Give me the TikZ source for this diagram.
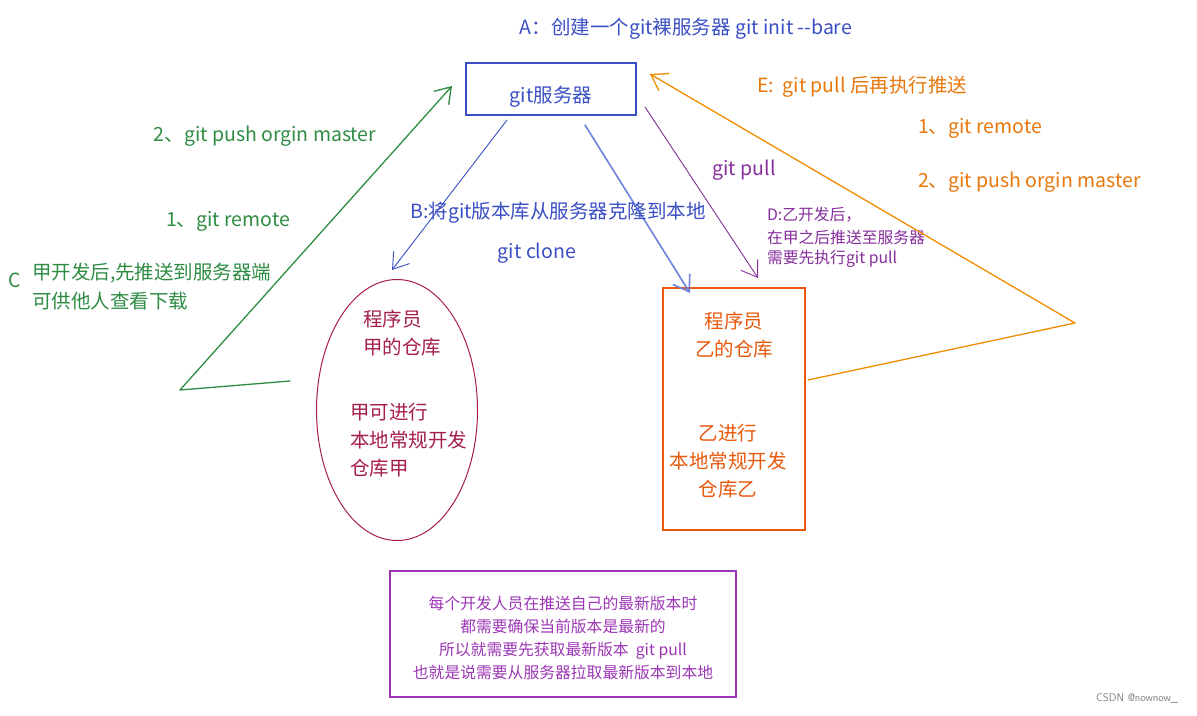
\documentclass[tikz,border=0pt]{standalone}
\usepackage{fontspec}
\usepackage{tikz}
\usetikzlibrary{arrows.meta,shapes.geometric}
\newfontfamily\cjk{Noto Sans CJK SC}

\begin{document}
\begin{tikzpicture}[x=1pt,y=-1pt,
  txt/.style={inner sep=0pt, outer sep=0pt, font=\cjk\fontsize{19.5}{28}\selectfont},
  small/.style={inner sep=0pt, outer sep=0pt, font=\cjk\fontsize{15.8}{22.7}\selectfont},
  arr/.style={-{Straight Barb[length=15pt,width=20pt]}, line width=0.9pt, line cap=round, line join=round}]
\definecolor{blueColor}{RGB}{59,79,196}
\definecolor{lightBlue}{RGB}{110,130,220}
\definecolor{greenColor}{RGB}{47,140,68}
\definecolor{orangeColor}{RGB}{240,140,0}
\definecolor{textOrange}{RGB}{232,119,12}
\definecolor{purpleColor}{RGB}{134,46,156}
\definecolor{boxPurple}{RGB}{156,54,181}
\definecolor{redColor}{RGB}{166,30,77}
\definecolor{yiColor}{RGB}{232,89,12}
\path[use as bounding box,fill=white] (0,0) rectangle (1197,715);

\node[txt,text=blueColor] (titleA) at (686,29) {\textit{A}：创建一个git裸服务器 git init --bare};

\node[draw=blueColor,line width=1.2pt,minimum width=170pt,minimum height=52pt,inner sep=0pt] (server) at (551,89) {};
\node[txt,text=blueColor] (serverText) at (551,97) {git服务器};

\node[ellipse,draw=redColor,line width=1pt,minimum width=161pt,minimum height=261pt,inner sep=0pt] (jia) at (397,410) {};
\node[txt,text=redColor,anchor=west] (jiaTop) at (363,319) {程序员};
\node[txt,text=redColor,anchor=west] (jiaTop2) at (363,347) {甲的仓库};
\node[txt,text=redColor,anchor=west] (jiaBot) at (350,412) {甲可进行};
\node[txt,text=redColor,anchor=west] (jiaBot2) at (350,440) {本地常规开发};
\node[txt,text=redColor,anchor=west] (jiaBot3) at (350,468) {仓库甲};

\node[draw=yiColor,line width=1.2pt,minimum width=142pt,minimum height=242pt,inner sep=0pt] (yi) at (734,409) {};
\node[txt,text=yiColor,align=center] (yiTop) at (734,335) {程序员\\乙的仓库};
\node[txt,text=yiColor,align=center] (yiBot) at (728,461) {乙进行\\本地常规开发\\仓库乙};

\node[draw=boxPurple,line width=1.2pt,minimum width=346pt,minimum height=126pt,inner sep=0pt] (note) at (563,634) {};
\node[small,text=boxPurple,align=center] (noteText) at (563,638)
  {每个开发人员在推送自己的最新版本时\\都需要确保当前版本是最新的\\所以就需要先获取最新版本\ \ git pull\\也就是说需要从服务器拉取最新版本到本地};

\coordinate (gStart) at (290,381);
\coordinate (gBend) at (180,390);
\coordinate (gTip) at (452,86);
\draw[arr,draw=greenColor,line width=1.3pt] (gStart) -- (gBend) -- (gTip);
\node[txt,text=greenColor] (pushJia) at (265,136) {2、git push orgin master};
\node[txt,text=greenColor] (remoteJia) at (228,221) {1、git remote};
\node[txt,text=greenColor] (stepC) at (15,280) {C};
\node[txt,text=greenColor,anchor=west] (cText) at (32,273) {甲开发后,先推送到服务器端};
\node[txt,text=greenColor,anchor=west] (cText2) at (32,301) {可供他人查看下载};

\coordinate (bStart) at (507,120);
\coordinate (bTip) at (392,270);
\draw[arr,draw=blueColor] (bStart) -- (bTip);
\coordinate (cStart) at (585,125);
\coordinate (cTip) at (690,293);
\draw[arr,draw=lightBlue,line width=1.6pt] (cStart) -- (cTip);
\node[txt,text=blueColor] (stepB) at (558,213) {B:将git版本库从服务器克隆到本地};
\node[txt,text=blueColor] (cloneText) at (537,253) {git clone};

\coordinate (dStart) at (645,107);
\coordinate (dTip) at (758,278);
\draw[arr,draw=purpleColor] (dStart) -- (dTip);
\node[txt,text=purpleColor] (pullText) at (744,170) {git pull};
\node[small,text=purpleColor,anchor=west] (stepD) at (767,215) {D:乙开发后，};
\node[small,text=purpleColor,anchor=west] (stepD2) at (767,237) {在甲之后推送至服务器};
\node[small,text=purpleColor,anchor=west] (stepD3) at (767,259) {需要先执行git pull};

\coordinate (eStart) at (808,380);
\coordinate (eBend) at (1075,323);
\coordinate (eTip) at (650,74);
\draw[arr,draw=orangeColor,line width=1.3pt] (eStart) -- (eBend) -- (eTip);
\node[txt,text=textOrange,anchor=west] (stepE) at (757,87) {E:\ \ git pull 后再执行推送};
\node[txt,text=textOrange,anchor=west] (remoteYi) at (918,128) {1、git remote};
\node[txt,text=textOrange,anchor=west] (pushYi) at (918,182) {2、git push orgin master};

\node[inner sep=0pt,text=gray,font=\sffamily\fontsize{11}{13}\selectfont] (mark) at (1137,698) {CSDN @nownow\_};
\end{tikzpicture}
\end{document}
